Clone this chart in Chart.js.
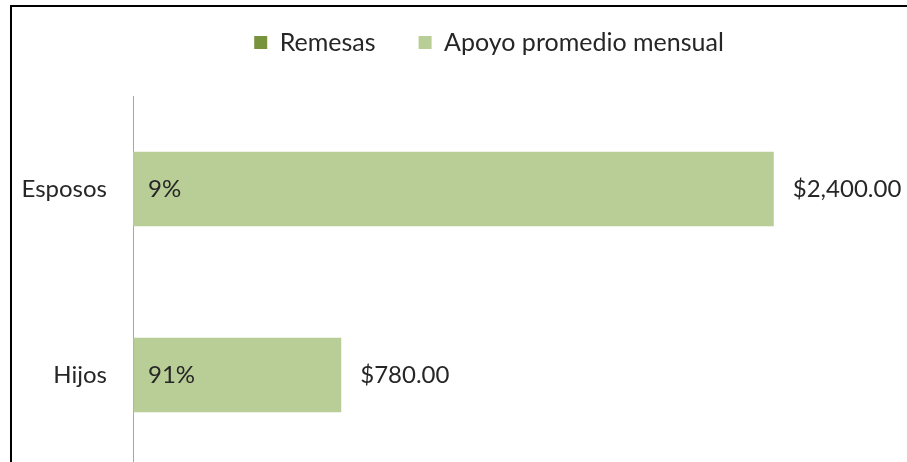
<!DOCTYPE html>
<html>
<head>
<meta charset="utf-8">
<script src="https://cdn.jsdelivr.net/npm/chart.js@4"></script>
<style>
    html, body { margin: 0; padding: 0; background: #fff; overflow: hidden; }
    .frame {
        position: absolute; left: 10px; top: 5px; width: 1000px; height: 500px;
        border-top: 2px solid #000; border-left: 2px solid #000;
    }
    #remesas-chart { position: absolute; left: 12px; top: -13px; }
</style>
</head>
<body>
<div class="frame"></div>
<canvas id="remesas-chart" width="954" height="490"></canvas>
<script>
// 데이터
const categories = ['Esposos', 'Hijos'];
const remesas = [0.09, 0.91];          // porcentaje (fracción)
const apoyoMensual = [2400, 780];      // pesos

const FONT = 'Lato, "Open Sans", sans-serif';
const TEXT = '#262626';

// etiquetas de datos: % al inicio de la barra, $ al final
const dataLabels = {
    id: 'dataLabels',
    afterDatasetsDraw(chart) {
        const ctx = chart.ctx;
        ctx.save();
        ctx.font = '24px ' + FONT;
        ctx.fillStyle = TEXT;
        ctx.textBaseline = 'middle';
        ctx.textAlign = 'left';
        chart.getDatasetMeta(0).data.forEach((bar, i) => {
            ctx.fillText(Math.round(remesas[i] * 100) + '%', bar.base + 15, bar.y);
        });
        chart.getDatasetMeta(1).data.forEach((bar, i) => {
            const txt = '$' + apoyoMensual[i].toLocaleString('en-US', { minimumFractionDigits: 2 });
            ctx.fillText(txt, bar.x + 19, bar.y);
        });
        ctx.restore();
    }
};

// alto fijo de la leyenda (espacio hasta el área del gráfico)
const legendHeight = {
    id: 'legendHeight',
    beforeInit(chart) {
        const fit = chart.legend.fit;
        chart.legend.fit = function () {
            fit.bind(chart.legend)();
            this.height = 109;
        };
    }
};

new Chart(document.getElementById('remesas-chart'), {
    type: 'bar',
    data: {
        labels: categories,
        datasets: [
            {
                label: 'Remesas',
                data: remesas,
                backgroundColor: '#77933C',
                grouped: false
            },
            {
                label: 'Apoyo promedio mensual',
                data: apoyoMensual,
                backgroundColor: '#B9CE96',
                grouped: false
            }
        ]
    },
    options: {
        indexAxis: 'y',
        responsive: false,
        animation: false,
        layout: { padding: { left: 0, right: 0, top: 0, bottom: 9 } },
        categoryPercentage: 0.5,
        barPercentage: 0.8,
        scales: {
            x: {
                display: false,
                min: 0,
                max: 3120
            },
            y: {
                grid: { display: false, drawTicks: false },
                border: { display: true, color: '#A6A6A6', width: 1 },
                ticks: { color: TEXT, font: { size: 24, family: FONT }, padding: 26 },
                afterFit(scale) {
                    scale.width = 121;
                    scale.paddingTop = 0;
                    scale.paddingBottom = 0;
                }
            }
        },
        plugins: {
            legend: {
                position: 'top',
                labels: {
                    color: TEXT,
                    font: { size: 25, family: FONT },
                    boxWidth: 13,
                    boxHeight: 13,
                    padding: 43
                }
            },
            tooltip: { enabled: false }
        }
    },
    plugins: [dataLabels, legendHeight]
});
</script>
</body>
</html>
